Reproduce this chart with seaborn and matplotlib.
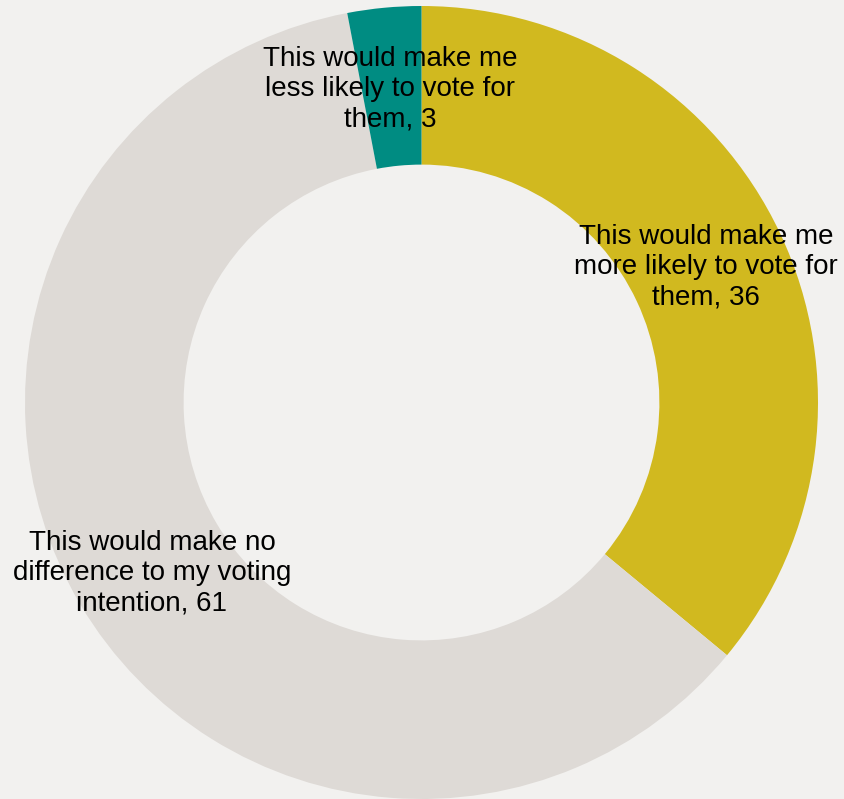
import matplotlib
matplotlib.use("Agg")
import matplotlib.pyplot as plt
import seaborn as sns

# Survey responses (percent), clockwise from 12 o'clock
categories = [
    "This would make me\nmore likely to vote for\nthem",
    "This would make no\ndifference to my voting\nintention",
    "This would make me\nless likely to vote for\nthem",
]
values = [36, 61, 3]

colors = ["#D1B91F", "#DEDAD6", "#008C82"]
background = "#F2F1EF"

# label anchor points in pixel coordinates (y measured from the top)
label_xy = [(706, 267), (152, 573), (390, 89)]

sns.set_theme(style="white")
plt.rcParams["font.family"] = ["Liberation Sans", "DejaVu Sans"]

W, H = 844, 799
fig = plt.figure(figsize=(W / 100, H / 100), dpi=100, facecolor=background)
ax = fig.add_axes([0, 0, 1, 1])
ax.set_facecolor(background)

cx, cy, r = 421.5, H - 402.5, 396.5
ax.pie(
    values,
    colors=colors,
    startangle=90,
    counterclock=False,
    radius=r,
    center=(cx, cy),
    wedgeprops=dict(width=r * 0.4, edgecolor="none", linewidth=0),
    frame=True,
)
ax.set_xlim(0, W)
ax.set_ylim(0, H)
ax.set_aspect("equal")
ax.axis("off")

for cat, val, (lx, ly) in zip(categories, values, label_xy):
    ax.text(lx, H - ly, f"{cat}, {val}", ha="center", va="center",
            fontsize=20, color="#000000", linespacing=1.22)

fig.savefig("out.png", dpi=100, facecolor=background)
